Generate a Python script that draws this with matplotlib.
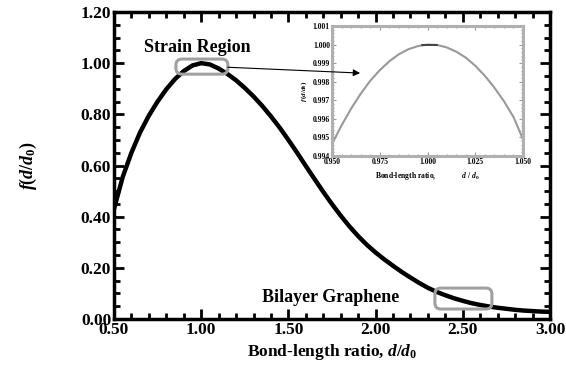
import matplotlib.pyplot as plt
import matplotlib as mpl
from matplotlib.patches import FancyBboxPatch
from matplotlib.ticker import MultipleLocator

mpl.rcParams['font.family'] = 'serif'
mpl.rcParams['font.serif'] = ['Liberation Serif']
mpl.rcParams['font.weight'] = 'bold'
mpl.rcParams['axes.labelweight'] = 'bold'
mpl.rcParams['mathtext.fontset'] = 'custom'
mpl.rcParams['mathtext.rm'] = 'Liberation Serif:bold'
mpl.rcParams['mathtext.it'] = 'Liberation Serif:italic:bold'
mpl.rcParams['mathtext.bf'] = 'Liberation Serif:bold'

# main curve
ratio = [0.50, 0.55, 0.60, 0.65, 0.70, 0.75, 0.80, 0.85, 0.90, 0.95, 1.00,
         1.05, 1.10, 1.15, 1.20, 1.25, 1.30, 1.35, 1.40, 1.45, 1.50, 1.55,
         1.60, 1.65, 1.70, 1.75, 1.80, 1.85, 1.90, 1.95, 2.00, 2.05, 2.10,
         2.15, 2.20, 2.25, 2.30, 2.35, 2.40, 2.45, 2.50, 2.55, 2.60, 2.65,
         2.70, 2.75, 2.80, 2.85, 2.90, 2.95, 3.00]
f_vals = [0.43, 0.555, 0.65, 0.73, 0.795, 0.850, 0.898, 0.938, 0.969, 0.991, 1.000,
          0.995, 0.979, 0.958, 0.933, 0.903, 0.870, 0.833, 0.792, 0.748, 0.700, 0.650,
          0.598, 0.547, 0.497, 0.449, 0.404, 0.362, 0.324, 0.290, 0.260, 0.233, 0.208,
          0.184, 0.162, 0.141, 0.122, 0.106, 0.093, 0.081, 0.071, 0.062, 0.055, 0.049,
          0.044, 0.040, 0.036, 0.033, 0.031, 0.029, 0.028]

# zoomed strain region
ratio_in = [0.950, 0.955, 0.960, 0.965, 0.970, 0.975, 0.980, 0.985, 0.990, 0.995, 1.000,
            1.005, 1.010, 1.015, 1.020, 1.025, 1.030, 1.035, 1.040, 1.045, 1.050]
f_in = [0.99465, 0.99565, 0.99655, 0.99735, 0.99805, 0.99862, 0.99910, 0.99948, 0.99975, 0.99992, 1.00000,
        0.99998, 0.99985, 0.99962, 0.99930, 0.99886, 0.99832, 0.99768, 0.99695, 0.99610, 0.99490]
peak_x = [0.997, 1.005]
peak_y = [1.0, 1.0]

x_ticks = [0.50, 1.00, 1.50, 2.00, 2.50, 3.00]
y_ticks = [0.00, 0.20, 0.40, 0.60, 0.80, 1.00, 1.20]
x_ticks_in = [0.950, 0.975, 1.000, 1.025, 1.050]
y_ticks_in = [0.994, 0.995, 0.996, 0.997, 0.998, 0.999, 1.000, 1.001]

fig = plt.figure(figsize=(5.66, 3.77), dpi=100)
ax = fig.add_axes([0.2014, 0.1538, 0.7703, 0.8144])

ax.plot(ratio, f_vals, color='black', lw=3.2, solid_capstyle='butt', zorder=3)
ax.set_xlim(0.5, 3.0)
ax.set_ylim(0.0, 1.2)
ax.set_xticks(x_ticks)
ax.set_yticks(y_ticks)
ax.set_xticklabels([f'{v:.2f}' for v in x_ticks])
ax.set_yticklabels([f'{v:.2f}' for v in y_ticks])
ax.xaxis.set_minor_locator(MultipleLocator(0.1))
ax.yaxis.set_minor_locator(MultipleLocator(0.05))
ax.tick_params(which='both', direction='in', top=True, right=True, labelsize=12.5, width=2)
ax.tick_params(which='major', length=7, pad=2)
ax.tick_params(which='minor', length=4)
for s in ax.spines.values():
    s.set_linewidth(2.5)

ax.set_xlabel(r'Bond-length ratio, $d/d_{0}$', fontsize=12.5, labelpad=3)
ax.set_ylabel(r'$f(d/d_{0})$', fontsize=13, labelpad=30)

# highlighted regions
box_kw = dict(boxstyle='round,pad=0,rounding_size=0.035', fc='none', ec='#a0a0a0',
              lw=2.2, zorder=4, mutation_aspect=0.68)
ax.add_patch(FancyBboxPatch((0.855, 0.957), 0.298, 0.059, **box_kw))
ax.add_patch(FancyBboxPatch((2.34, 0.039), 0.327, 0.082, **box_kw))

ax.text(0.98, 1.06, 'Strain Region', ha='center', va='center', fontsize=13)
ax.text(1.745, 0.085, 'Bilayer Graphene', ha='center', va='center', fontsize=13)

# inset
ax_in = fig.add_axes([0.5866, 0.5862, 0.3375, 0.3448])
ax_in.plot(ratio_in, f_in, color='#999999', lw=1.5)
ax_in.plot(peak_x, peak_y, color='#333333', lw=1.2)
ax_in.set_xlim(0.950, 1.050)
ax_in.set_ylim(0.994, 1.001)
ax_in.set_xticks(x_ticks_in)
ax_in.set_yticks(y_ticks_in)
ax_in.set_xticklabels([f'{v:.3f}' for v in x_ticks_in])
ax_in.set_yticklabels([f'{v:.3f}' for v in y_ticks_in])
ax_in.xaxis.set_minor_locator(MultipleLocator(0.005))
ax_in.yaxis.set_minor_locator(MultipleLocator(0.0002))
ax_in.tick_params(which='both', direction='in', top=True, right=True, labelsize=5.5,
                  color='#999999', width=0.8, pad=1.5)
ax_in.tick_params(which='major', length=3)
ax_in.tick_params(which='minor', length=1.5)
for s in ax_in.spines.values():
    s.set_linewidth(2.2)
    s.set_edgecolor('#b0b0b0')
ax_in.set_xlabel(r'Bond-length ratio,              $d\ /\ d_{0}$', fontsize=5.5, labelpad=3)
ax_in.set_ylabel(r'$f\,(d/d_{0})$', fontsize=5, labelpad=3)

ax_in.annotate('', xy=(0.147, 0.638), xycoords='axes fraction',
               xytext=(1.153, 0.984), textcoords=ax.transData,
               arrowprops=dict(arrowstyle='-|>', color='black', lw=0.8,
                               mutation_scale=10, shrinkA=0, shrinkB=0),
               annotation_clip=False)

plt.savefig('out.png', dpi=100)
